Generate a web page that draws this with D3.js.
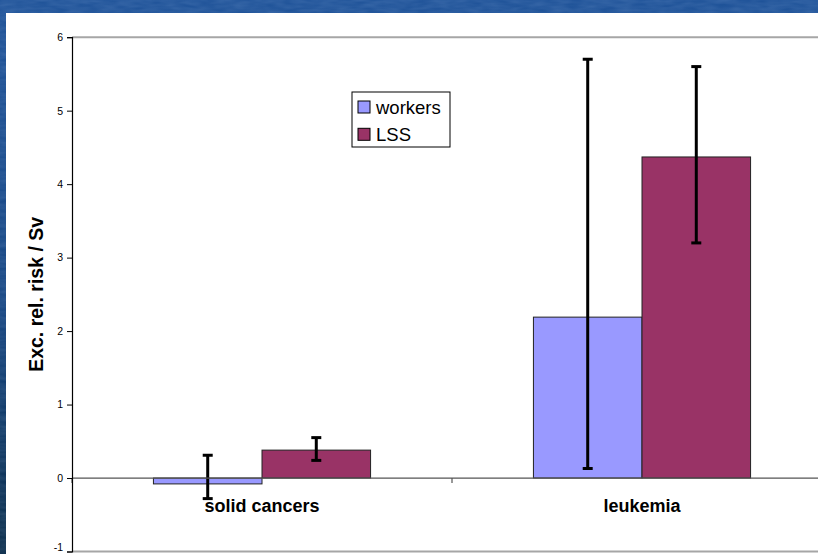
<!DOCTYPE html>
<html>
<head>
<meta charset="utf-8">
<script src="https://cdn.jsdelivr.net/npm/d3@7"></script>
<style>
  html, body { margin: 0; padding: 0; background: #1b4c8c; }
  svg { display: block; }
  text { font-family: "Liberation Sans", Arial, sans-serif; }
</style>
</head>
<body>
<svg id="chart" width="818" height="554"></svg>
<script>
// Excess relative risk per sievert, by cancer type and cohort
const categories = ["solid cancers", "leukemia"];
const series = ["workers", "LSS"];
const workersValues = [-0.08, 2.19];
const lssValues = [0.38, 4.37];
const workersLow = [-0.28, 0.13];
const workersHigh = [0.31, 5.70];
const lssLow = [0.24, 3.20];
const lssHigh = [0.55, 5.60];
const yTicks = [-1, 0, 1, 2, 3, 4, 5, 6];
const yTitle = "Exc. rel. risk / Sv";
const colors = { workers: "#9999FF", LSS: "#993366" };

const rows = categories.map((c, i) => ({
  category: c,
  bars: [
    { key: "workers", value: workersValues[i], low: workersLow[i], high: workersHigh[i] },
    { key: "LSS", value: lssValues[i], low: lssLow[i], high: lssHigh[i] }
  ]
}));

const W = 818, H = 554;
const svg = d3.select("#chart");

// textured blue slide background
const defs = svg.append("defs");
const bg = defs.append("linearGradient").attr("id", "bgGrad")
  .attr("x1", 0).attr("y1", 0).attr("x2", 0).attr("y2", 1);
bg.append("stop").attr("offset", "0%").attr("stop-color", "#1f5399");
bg.append("stop").attr("offset", "55%").attr("stop-color", "#174682");
bg.append("stop").attr("offset", "100%").attr("stop-color", "#0b2d4a");
const tex = defs.append("filter").attr("id", "grain")
  .attr("x", 0).attr("y", 0).attr("width", "100%").attr("height", "100%");
tex.append("feTurbulence").attr("type", "fractalNoise")
  .attr("baseFrequency", "0.06 0.25").attr("numOctaves", 2).attr("seed", 3);
tex.append("feColorMatrix").attr("type", "matrix")
  .attr("values", "0 0 0 0 0.6  0 0 0 0 0.75  0 0 0 0 1  0 0 0 0.35 -0.05");

svg.append("rect").attr("width", W).attr("height", H).attr("fill", "url(#bgGrad)");
svg.append("rect").attr("width", W).attr("height", H).attr("filter", "url(#grain)").attr("opacity", 0.5);

// white chart panel
svg.append("rect").attr("x", 6).attr("y", 13).attr("width", W - 6).attr("height", H - 13).attr("fill", "#ffffff");

const plotLeft = 72, plotRight = 832;
const y = d3.scaleLinear().domain([-1, 6]).range([551.5, 37.2]);
const x0 = d3.scaleBand().domain(categories).range([plotLeft, plotRight]).paddingInner(0).paddingOuter(0);
const x1 = d3.scaleBand().domain(series).range([0, x0.bandwidth()]).paddingInner(0).paddingOuter(0.75);

// plot area border lines at top and bottom
svg.append("line").attr("x1", plotLeft).attr("x2", W).attr("y1", y(6)).attr("y2", y(6))
  .attr("stroke", "#a6a6a6").attr("stroke-width", 2);
svg.append("line").attr("x1", plotLeft).attr("x2", W).attr("y1", y(-1)).attr("y2", y(-1))
  .attr("stroke", "#a6a6a6").attr("stroke-width", 2);

// bars
const groups = svg.append("g").selectAll("g").data(rows).join("g")
  .attr("transform", d => `translate(${x0(d.category)},0)`);
groups.selectAll("rect").data(d => d.bars).join("rect")
  .attr("x", d => x1(d.key))
  .attr("width", x1.bandwidth())
  .attr("y", d => y(Math.max(0, d.value)))
  .attr("height", d => Math.abs(y(d.value) - y(0)))
  .attr("fill", d => colors[d.key])
  .attr("stroke", "#222")
  .attr("stroke-width", 1);

// category axis on the zero line
const xAxis = svg.append("g").attr("transform", `translate(0,${y(0)})`);
xAxis.append("line").attr("x1", plotLeft).attr("x2", plotRight).attr("stroke", "#555").attr("stroke-width", 1.2);
const boundaries = categories.map(c => x0(c)).concat([plotRight]);
xAxis.selectAll("line.tick").data(boundaries).join("line").attr("class", "tick")
  .attr("x1", d => d).attr("x2", d => d).attr("y1", 0).attr("y2", 5)
  .attr("stroke", "#555").attr("stroke-width", 1.2);

// error bars
const eb = groups.selectAll("g.err").data(d => d.bars).join("g").attr("class", "err");
eb.append("line")
  .attr("x1", d => x1(d.key) + x1.bandwidth() / 2).attr("x2", d => x1(d.key) + x1.bandwidth() / 2)
  .attr("y1", d => y(d.high)).attr("y2", d => y(d.low))
  .attr("stroke", "#000").attr("stroke-width", 3);
["high", "low"].forEach(k => {
  eb.append("line")
    .attr("x1", d => x1(d.key) + x1.bandwidth() / 2 - 5).attr("x2", d => x1(d.key) + x1.bandwidth() / 2 + 5)
    .attr("y1", d => y(d[k])).attr("y2", d => y(d[k]))
    .attr("stroke", "#000").attr("stroke-width", 3);
});

// category labels
svg.append("g").selectAll("text").data(categories).join("text")
  .attr("x", d => x0(d) + x0.bandwidth() / 2)
  .attr("y", 512)
  .attr("text-anchor", "middle")
  .attr("font-size", 18).attr("font-weight", "bold").attr("fill", "#000")
  .text(d => d);

// value axis (plain hyphen for negative labels)
const yAxis = svg.append("g").attr("transform", `translate(${plotLeft},0)`)
  .call(d3.axisLeft(y).tickValues(yTicks).tickSize(5).tickPadding(4).tickFormat(d => String(d)));
yAxis.select(".domain").attr("stroke", "#000").attr("stroke-width", 1.2);
yAxis.selectAll(".tick line").attr("stroke", "#000");
yAxis.selectAll(".tick text").attr("font-size", 10.5).attr("fill", "#000")
  .attr("font-family", "'Liberation Sans', Arial, sans-serif");
// the lowest label sits against the panel's bottom edge
yAxis.selectAll(".tick text").filter(d => d === -1).attr("dy", "-0.05em");

svg.append("text")
  .attr("transform", `translate(43,${(y(6) + y(-1)) / 2}) rotate(-90)`)
  .attr("text-anchor", "middle")
  .attr("font-size", 19.5).attr("font-weight", "bold").attr("fill", "#000")
  .text(yTitle);

// legend
const legend = svg.append("g").attr("transform", "translate(352,92)");
legend.append("rect").attr("width", 98).attr("height", 55)
  .attr("fill", "#fff").attr("stroke", "#000").attr("stroke-width", 1);
const li = legend.selectAll("g").data(series).join("g")
  .attr("transform", (d, i) => `translate(6,${9 + i * 27.3})`);
li.append("rect").attr("width", 12).attr("height", 12)
  .attr("fill", d => colors[d]).attr("stroke", "#000").attr("stroke-width", 1);
li.append("text").attr("x", 18).attr("y", 13)
  .attr("font-size", 18.5).attr("fill", "#000").text(d => d);
</script>
</body>
</html>
